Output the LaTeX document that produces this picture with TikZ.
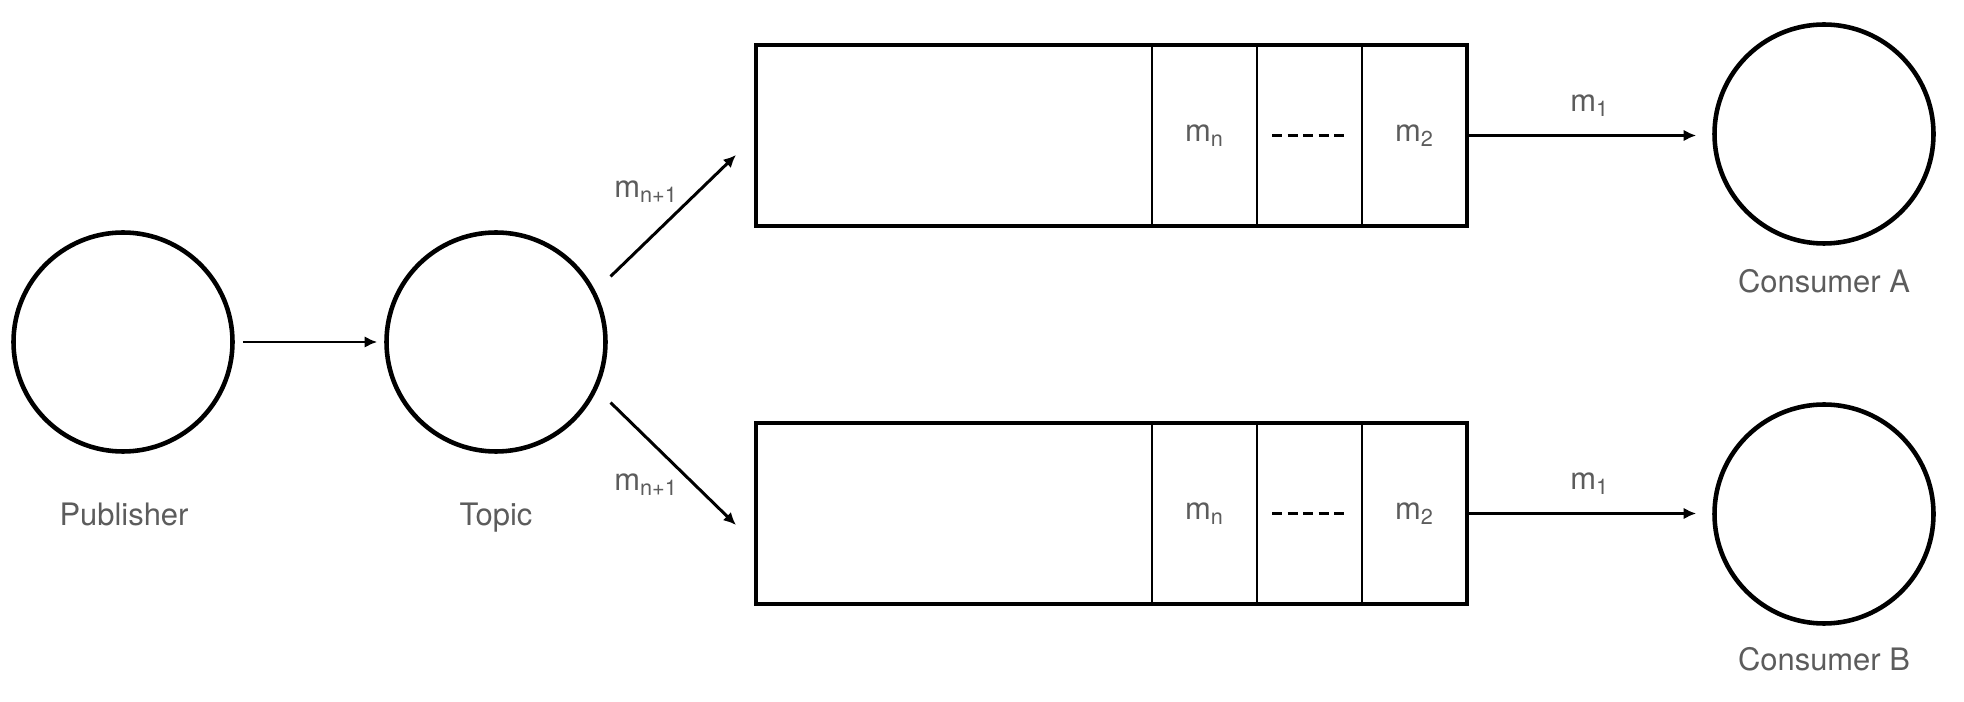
\documentclass[tikz,border=0pt]{standalone}
\usepackage{fontspec}
\setmainfont{TeX Gyre Heros}
\usepackage{tikz}
\usetikzlibrary{arrows.meta, positioning, calc}
\definecolor{qgray}{HTML}{5C5C5C}
\tikzset{
  >=Latex,
  font=\fontsize{17.6}{21}\selectfont,
  actor/.style={
    circle, draw=black, line width=2.6pt, minimum size=4.38cm, inner sep=0pt
  },
  queue/.style={
    draw=black, line width=2.8pt, minimum width=14.22cm, minimum height=3.62cm,
    inner sep=0pt, outer sep=0pt
  },
  cell/.style={
    draw=black, line width=1.5pt, minimum width=2.1cm, minimum height=3.62cm,
    inner sep=0pt, outer sep=0pt, text=qgray
  },
  dotline/.style={line width=1.8pt, dash pattern=on 0.2cm off 0.11cm},
  arr/.style={-{Latex[length=2.5mm,width=2.3mm]}, line width=1.7pt},
  lab/.style={text=qgray, inner sep=1pt, text height=0.72em, text depth=0.2em}
}

\begin{document}
\begin{tikzpicture}
  \useasboundingbox (0,0) rectangle (39.28,-14.04);
  \node[actor] (pub) at (2.46,-6.84) {};
  \node[actor] (topic) at (9.92,-6.84) {};
  \node[actor] (consA) at (36.48,-2.68) {};
  \node[actor] (consB) at (36.48,-10.28) {};
  \node[lab] (publab) at (2.48,-10.42) {Publisher};
  \node[lab] (topiclab) at (9.92,-10.42) {Topic};
  \node[lab] (consAlab) at (36.48,-5.76) {Consumer A};
  \node[lab] (consBlab) at (36.48,-13.32) {Consumer B};
  \foreach \q/\y in {A/-2.71, B/-10.27} {
    \node[queue] (q\q) at (22.23,\y) {};
    \node[cell, anchor=east] (q\q2) at (q\q.east) {m\textsubscript{2}};
    \node[cell, left=0pt of q\q2] (q\q dots) {};
    \node[cell, left=0pt of q\q dots] (q\q n) {m\textsubscript{n}};
    \draw[dotline] ([xshift=0.3cm]q\q dots.west) -- ([xshift=-0.3cm]q\q dots.east);
    \draw[arr, shorten >=0.32cm] (q\q.east) -- (q\q.east -| cons\q.west)
      node[lab, midway, yshift=0.57cm] (m1\q) {m\textsubscript{1}};
  }
  \draw[arr, shorten <=0.16cm, shorten >=0.14cm] (pub) -- (topic);
  \draw[arr] ([shift={(0.71,-0.27)}]topic.north east) -- ([shift={(-0.4,-0.39)}]qA.west);
  \draw[arr] ([shift={(0.71,0.37)}]topic.south east) -- ([shift={(-0.4,-0.23)}]qB.west);
  \node[lab] (inA) at (12.92,-3.86) {m\textsubscript{n+1}};
  \node[lab] (inB) at (12.92,-9.72) {m\textsubscript{n+1}};
\end{tikzpicture}
\end{document}
